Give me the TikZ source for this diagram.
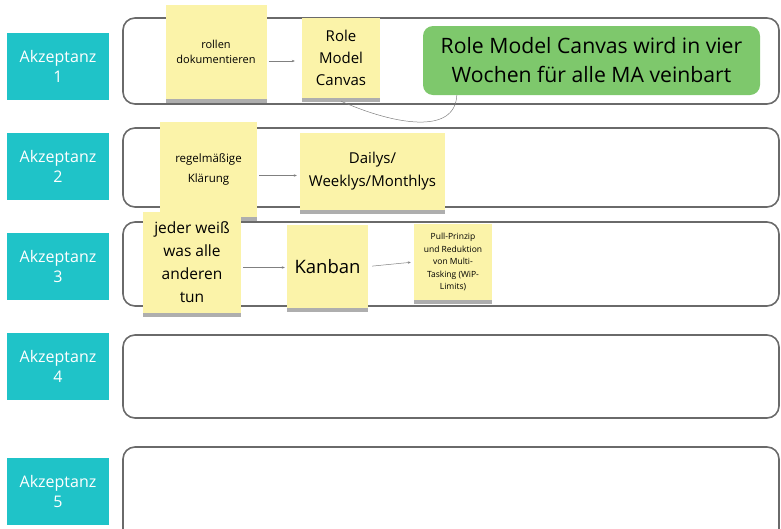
\documentclass[tikz,border=0pt]{standalone}
\usepackage{fontspec}
\setmainfont{Open Sans}
\usetikzlibrary{arrows.meta, shadows}
\definecolor{teal1}{HTML}{1FC3C8}
\definecolor{sticky}{HTML}{FBF3A9}
\definecolor{green1}{HTML}{7EC86C}
\definecolor{lanegray}{HTML}{6A6A6A}

\begin{document}
\begin{tikzpicture}[
        x=1pt, y=-1pt,
        lane/.style={draw=lanegray, line width=1.6pt, rounded corners=12pt},
        tag/.style={fill=teal1, text=white, minimum width=102pt, minimum height=67pt,
            align=center, font=\fontsize{16}{20}\selectfont},
        note/.style={fill=sticky, align=center, inner sep=2pt,
            drop shadow={shadow xshift=0pt, shadow yshift=-4pt, xscale=.96,
                fill=black!70, opacity=.45}},
        goal/.style={fill=green1, rounded corners=10pt, align=center,
            font=\fontsize{21.2}{29}\selectfont},
        link/.style={draw=gray, line width=.5pt, -{Stealth[length=3pt, width=2.5pt]}}
    ]
        \useasboundingbox (0, 0) rectangle (781, 528);
        \clip (0, 0) rectangle (781, 528);

        \draw[lane] (123, 18) rectangle (779, 104);
        \draw[lane] (123, 128) rectangle (779, 207);
        \draw[lane] (123, 222) rectangle (779, 306);
        \draw[lane] (123, 335) rectangle (779, 418);
        \draw[lane] (123, 447) rectangle (779, 560);

        \node[tag] (akz1) at (58, 66.5) {Akzeptanz\\1};
        \node[tag] (akz2) at (58, 166.5) {Akzeptanz\\2};
        \node[tag] (akz3) at (58, 266) {Akzeptanz\\3};
        \node[tag] (akz4) at (58, 366) {Akzeptanz\\4};
        \node[tag] (akz5) at (58, 491.5) {Akzeptanz\\5};

        \node[note, minimum width=101pt, minimum height=94pt,
            font=\fontsize{11}{15}\selectfont] (rollen) at (216, 52)
            {\mbox{}\\[-7pt]rollen\\dokumentieren};
        \node[note, minimum width=78pt, minimum height=80pt,
            font=\fontsize{15}{22}\selectfont] (rmc) at (341, 58) {Role\\Model\\Canvas};
        \node[goal, minimum width=337pt, minimum height=69pt] (vereinbart) at (591.5, 60.5)
            {Role Model Canvas wird in vier\\Wochen für alle MA veinbart};

        \node[note, minimum width=97pt, minimum height=95pt,
            font=\fontsize{11.5}{20}\selectfont] (klaerung) at (208.5, 169.5)
            {regelmäßige\\Klärung};
        \node[note, minimum width=145pt, minimum height=77pt,
            font=\fontsize{15}{23}\selectfont] (dailys) at (372.5, 171.5)
            {Dailys/\\Weeklys/Monthlys};

        \node[note, minimum width=98pt, minimum height=101pt,
            font=\fontsize{15.5}{23}\selectfont] (jeder) at (192, 262.5)
            {jeder weiß\\was alle\\anderen\\tun};
        \node[note, minimum width=81pt, minimum height=83pt,
            font=\fontsize{18.5}{22}\selectfont] (kanban) at (327.5, 266.5) {Kanban};
        \node[note, minimum width=78pt, minimum height=76pt,
            font=\fontsize{8.5}{12.5}\selectfont] (pull) at (453, 262)
            {Pull-Prinzip\\und Reduktion\\von Multi-\\Tasking (WiP-\\Limits)};

        \draw[link, shorten <=2pt, shorten >=7pt] ([yshift=-9pt]rollen.east) -- ([yshift=-3pt]rmc.west);
        \draw[link, shorten <=2pt, shorten >=3pt] ([yshift=-6pt]klaerung.east) -- ([yshift=-4pt]dailys.west);
        \draw[link, shorten <=2pt, shorten >=2pt] ([yshift=-5pt]jeder.east) -- ([yshift=-1pt]kanban.west);
        \draw[link, shorten <=4pt, shorten >=3pt] (kanban.east) -- (pull.west);
        \draw[draw=gray, line width=.5pt] ([yshift=-3pt]rmc.south)
            .. controls (395, 125) and (455, 135) .. ([xshift=34pt]vereinbart.south west);
    \end{tikzpicture}
\end{document}
